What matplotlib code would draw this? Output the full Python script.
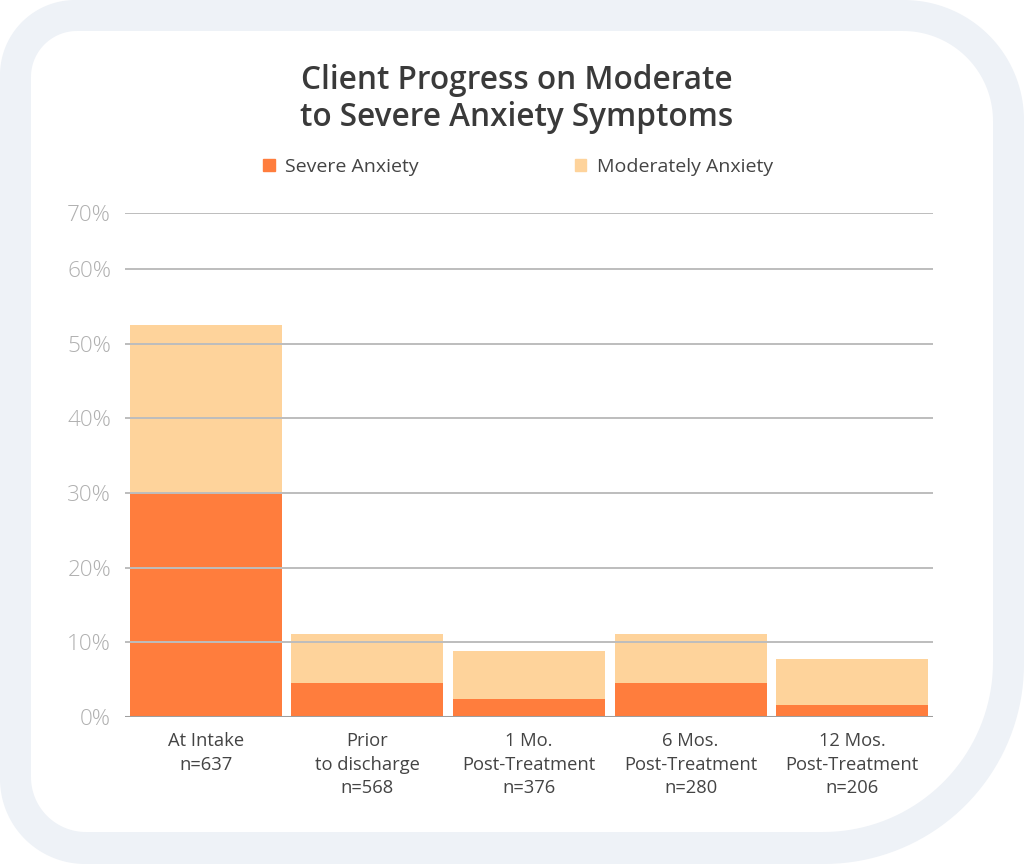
import numpy as np
import matplotlib.pyplot as plt
from matplotlib.path import Path
from matplotlib.patches import PathPatch, Patch
from matplotlib.transforms import IdentityTransform

# Colors:
frame_color = "#eef2f7"
severe_color = "#ff7d3d"
moderate_color = "#fed39b"
grid_color = "#bdbdbd"

plt.rcParams['font.family'] = ['Open Sans', 'DejaVu Sans']

categories = ["At Intake\nn=637", "Prior\nto discharge\nn=568", "1 Mo.\nPost-Treatment\nn=376",
              "6 Mos.\nPost-Treatment\nn=280", "12 Mos.\nPost-Treatment\nn=206"]
severe = [30.0, 4.5, 2.4, 4.5, 1.6]
moderate = [22.5, 6.6, 6.4, 6.6, 6.2]
y_ticks = [0, 10, 20, 30, 40, 50, 60, 67.5]
y_labels = ["0%", "10%", "20%", "30%", "40%", "50%", "60%", "70%"]

W, H = 1024, 864
fig = plt.figure(figsize=(W / 100, H / 100), dpi=100)
fig.patch.set_facecolor("white")


def rounded_path(x0, y0, x1, y1, r_tl, r_tr, r_br, r_bl):
    # corners in image coords (y down), converted to display coords
    pts = []
    corners = [((x0 + r_tl, y0 + r_tl), r_tl, 180, 270),
               ((x1 - r_tr, y0 + r_tr), r_tr, 270, 360),
               ((x1 - r_br, y1 - r_br), r_br, 0, 90),
               ((x0 + r_bl, y1 - r_bl), r_bl, 90, 180)]
    for (cx, cy), r, a0, a1 in corners:
        a = np.radians(np.linspace(a0, a1, 40))
        pts += list(zip(cx + r * np.cos(a), cy + r * np.sin(a)))
    pts.append(pts[0])
    pts = [(x, H - y) for x, y in pts]
    return Path(pts, closed=True)


outer = PathPatch(rounded_path(0, 0, 1024, 864, 75, 120, 200, 85),
                  facecolor=frame_color, edgecolor="none", transform=IdentityTransform(), zorder=-2)
inner = PathPatch(rounded_path(31, 31, 993, 832, 46, 90, 170, 55),
                  facecolor="white", edgecolor="none", transform=IdentityTransform(), zorder=-1)
fig.patches.extend([outer, inner])

ax = fig.add_axes([125 / W, (H - 717) / H, (933 - 125) / W, (717 - 213) / H])
ax.set_facecolor("none")

x = np.arange(len(categories))
ax.bar(x, severe, width=0.94, color=severe_color, zorder=1)
ax.bar(x, moderate, width=0.94, bottom=severe, color=moderate_color, zorder=1)

ax.set_xlim(-0.5, 4.5)
ax.set_ylim(0, 67.5)
ax.set_yticks(y_ticks)
ax.set_yticklabels(y_labels, fontsize=16.2, color="#b0b0b0", fontweight="light")
ax.set_xticks(x)
ax.set_xticklabels(categories, fontsize=13.2, color="#444444", linespacing=1.4)
ax.tick_params(axis="y", length=0, pad=10)
ax.tick_params(axis="x", length=0, pad=11)

for t in y_ticks[1:]:
    ax.axhline(t, color=grid_color, lw=1.4, zorder=2)
ax.axhline(0, color="#9e9e9e", lw=2.2, zorder=3)

for s in ax.spines.values():
    s.set_visible(False)

fig.text(517 / W, (H - 99) / H, "Client Progress on Moderate\nto Severe Anxiety Symptoms",
         ha="center", va="center", fontsize=22.7, fontweight="semibold", color="#3a3a3a",
         linespacing=1.15)

handles = [Patch(color=severe_color, label="Severe Anxiety"),
           Patch(color=moderate_color, label="Moderately Anxiety")]
leg = fig.legend(handles=handles, loc="center", bbox_to_anchor=(518 / W, (H - 167) / H),
                 ncol=2, frameon=False, fontsize=14, handlelength=0.6, handleheight=0.6,
                 handletextpad=0.55, columnspacing=8.0)
for t in leg.get_texts():
    t.set_color("#444444")

fig.savefig("out.png", dpi=100)
